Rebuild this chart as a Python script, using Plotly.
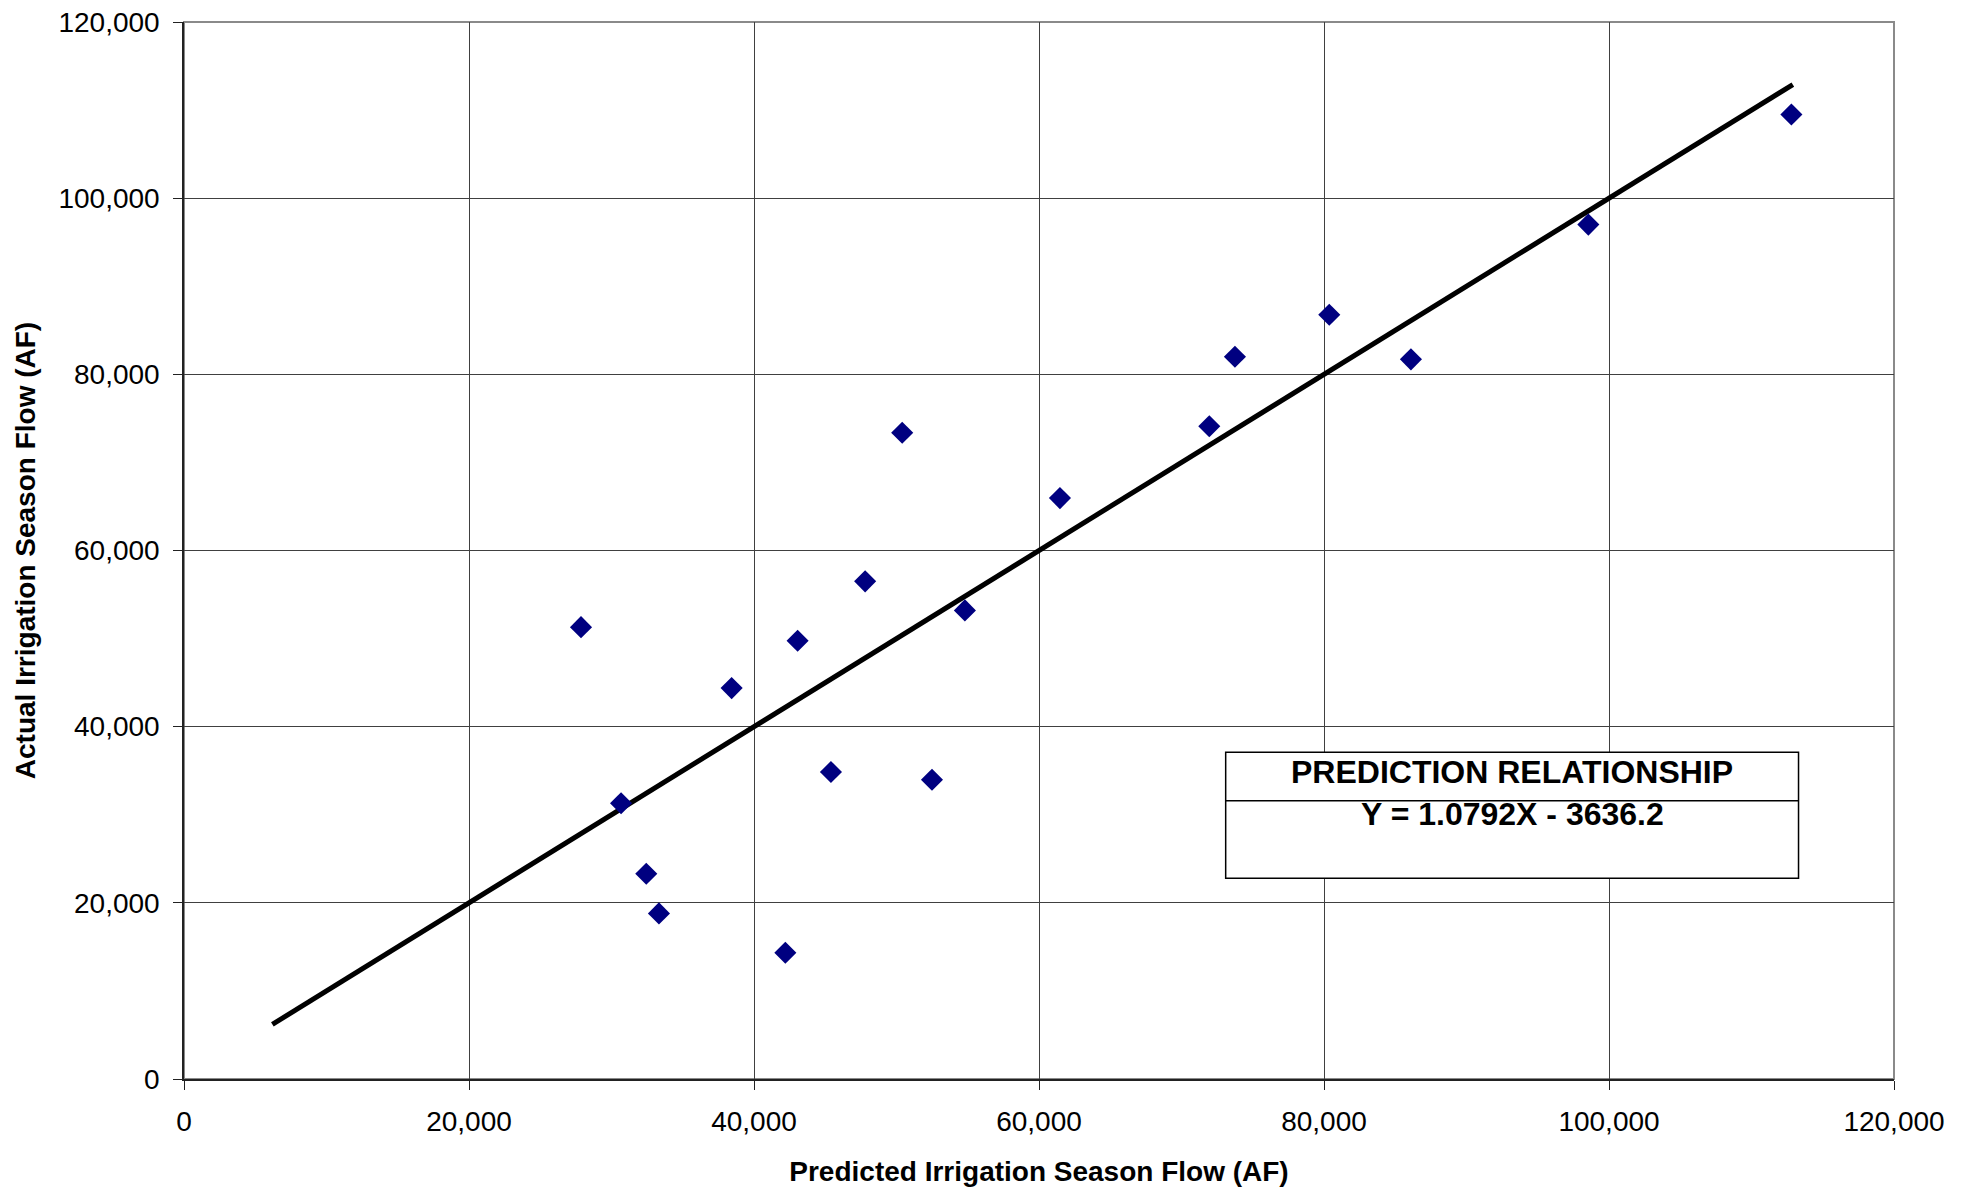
import plotly.graph_objects as go

# Observed data (acre-feet)
predicted = [27860, 30670, 32440, 33330, 38430, 42200, 43060, 45400, 47800,
             50400, 52490, 54800, 61470, 71950, 73750, 80370, 86100, 98550, 112800]
actual = [51300, 31300, 23300, 18800, 44380, 14340, 49750, 34850, 56500,
          73370, 33980, 53200, 65950, 74100, 82000, 86760, 81700, 97000, 109500]

# 1:1 reference line endpoints
line_x = [6200, 112900]
line_y = [6200, 112900]

x_ticks = [0, 20000, 40000, 60000, 80000, 100000, 120000]
y_ticks = [0, 20000, 40000, 60000, 80000, 100000, 120000]

box_title = "PREDICTION RELATIONSHIP"
box_eq = "Y = 1.0792X - 3636.2"

FONT = "Arial, Liberation Sans, sans-serif"

fig = go.Figure()
fig.add_trace(go.Scatter(x=line_x, y=line_y, mode="lines",
                         line=dict(color="black", width=5), hoverinfo="skip",
                         showlegend=False))
fig.add_trace(go.Scatter(x=predicted, y=actual, mode="markers",
                         marker=dict(symbol="diamond", size=17, color="#000080",
                                     line=dict(width=0)),
                         showlegend=False))

# plot-area border (top/right gray)
fig.add_shape(type="rect", xref="x domain", yref="y domain", x0=0, x1=1, y0=0, y1=1,
              line=dict(color="#8a8a8a", width=2), layer="below")

# text box
bx0, bx1, by0, by1, bdiv = 73100, 113300, 22800, 37100, 31600
fig.add_shape(type="rect", xref="x", yref="y", x0=bx0, x1=bx1, y0=by0, y1=by1,
              line=dict(color="black", width=1.5), fillcolor="white", layer="above")
fig.add_shape(type="line", xref="x", yref="y", x0=bx0, x1=bx1, y0=bdiv, y1=bdiv,
              line=dict(color="black", width=1.5), layer="above")
fig.add_annotation(x=(bx0 + bx1) / 2, y=34850, xref="x", yref="y", text="<b>%s</b>" % box_title,
                   showarrow=False, font=dict(family=FONT, size=32, color="black"))
fig.add_annotation(x=(bx0 + bx1) / 2, y=30100, xref="x", yref="y", text="<b>%s</b>" % box_eq,
                   showarrow=False, font=dict(family=FONT, size=32, color="black"))

axis_common = dict(
    showgrid=True, gridcolor="#404040", gridwidth=1,
    zeroline=False, showline=True, linecolor="#222222", linewidth=1.5,
    ticks="outside", ticklen=9, tickcolor="#222222", tickwidth=1,
    tickformat=",d", tickfont=dict(family=FONT, size=28, color="black"),
    ticklabeloverflow="allow",
)

fig.update_xaxes(range=[0, 120000], tickvals=x_ticks, **axis_common,
                 title=dict(text="<b>Predicted Irrigation Season Flow (AF)</b>",
                            font=dict(family=FONT, size=28, color="black"), standoff=25),
                 ticklabelstandoff=8)
fig.update_yaxes(range=[0, 120000], tickvals=y_ticks, **axis_common,
                 title=dict(text="<b>Actual Irrigation Season Flow (AF)</b>",
                            font=dict(family=FONT, size=28, color="black"), standoff=15),
                 ticklabelstandoff=8)

fig.update_layout(
    width=1972, height=1190,
    margin=dict(l=184, r=78, t=22, b=111, autoexpand=False),
    plot_bgcolor="white", paper_bgcolor="white",
    font=dict(family=FONT, color="black"),
)

fig.write_html("out.html", config={"displayModeBar": False},
               post_script="document.body.style.margin='0';document.body.style.overflow='hidden';")
